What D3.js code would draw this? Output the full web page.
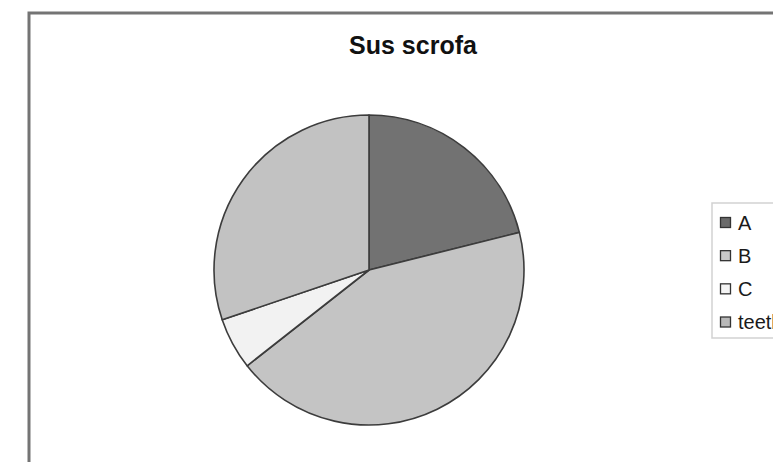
<!DOCTYPE html>
<html>
<head>
<meta charset="utf-8">
<script src="https://cdn.jsdelivr.net/npm/d3@7"></script>
<style>
  html, body { margin: 0; padding: 0; background: #fff; }
  svg { display: block; }
  text { font-family: "Liberation Sans", Arial, Helvetica, sans-serif; }
</style>
</head>
<body>
<svg id="chart" width="773" height="462"></svg>
<script>
const title = "Sus scrofa";
const categories = ["A", "B", "C", "teeth"];
const values = [21.1, 43.3, 5.4, 30.2];
const sliceColors = ["#727272", "#c4c4c4", "#f2f2f2", "#c2c2c2"];
const swatchColors = ["#6a6a6a", "#c8c8c8", "#f4f4f4", "#b8b8b8"];

const svg = d3.select("#chart");

// outer chart frame (extends past right/bottom edge)
svg.append("rect")
  .attr("x", 29).attr("y", 13)
  .attr("width", 900).attr("height", 600)
  .attr("fill", "#fff")
  .attr("stroke", "#747474")
  .attr("stroke-width", 3);

// title
svg.append("text")
  .attr("x", 413).attr("y", 54)
  .attr("text-anchor", "middle")
  .attr("font-size", 25)
  .attr("font-weight", "bold")
  .attr("fill", "#111")
  .text(title);

// pie
const cx = 369, cy = 270, r = 155;
const pie = d3.pie().sort(null).startAngle(0).endAngle(2 * Math.PI);
const arc = d3.arc().innerRadius(0).outerRadius(r);
const g = svg.append("g").attr("transform", `translate(${cx},${cy})`);
g.selectAll("path")
  .data(pie(values))
  .join("path")
  .attr("d", arc)
  .attr("fill", (d, i) => sliceColors[i])
  .attr("stroke", "#3c3c3c")
  .attr("stroke-width", 1.6)
  .attr("stroke-linejoin", "round");

// legend
const legend = svg.append("g");
legend.append("rect")
  .attr("x", 712).attr("y", 203)
  .attr("width", 120).attr("height", 135)
  .attr("fill", "#fff")
  .attr("stroke", "#d2d2d2")
  .attr("stroke-width", 1.5);

const ly = d3.scalePoint().domain(categories).range([222.5, 322]);
const items = legend.selectAll("g.item")
  .data(categories)
  .join("g")
  .attr("class", "item")
  .attr("transform", d => `translate(720,${ly(d)})`);
items.append("rect")
  .attr("x", 0.5).attr("y", -5)
  .attr("width", 10).attr("height", 10)
  .attr("fill", (d, i) => swatchColors[i])
  .attr("stroke", "#333")
  .attr("stroke-width", 1.3);
items.append("text")
  .attr("x", 18).attr("y", 7)
  .attr("font-size", 20)
  .attr("fill", "#1a1a1a")
  .text(d => d);
</script>
</body>
</html>
